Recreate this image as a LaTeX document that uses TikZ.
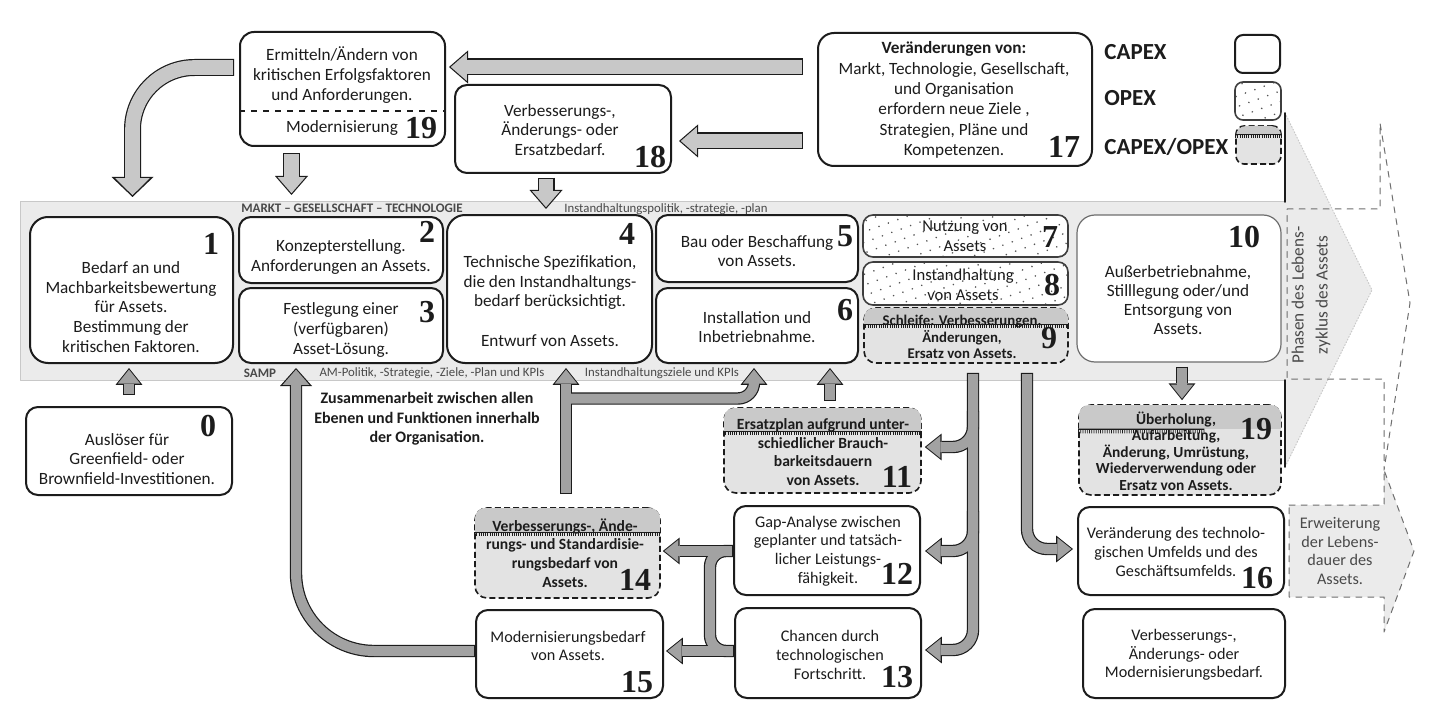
\documentclass[tikz,border=0pt]{standalone}
\usepackage{fontspec}
\setmainfont{Carlito}
\newfontfamily\numfont{Liberation Serif}
\usetikzlibrary{arrows.meta,calc,fit,patterns.meta}
\definecolor{ink}{HTML}{1C1C1C}
\definecolor{bandgray}{HTML}{EBEBEB}
\definecolor{bandline}{HTML}{C8C8C8}
\definecolor{lightarrow}{HTML}{C8C8C8}
\definecolor{midarrow}{HTML}{A2A2A2}
\definecolor{mixfill}{HTML}{E3E3E3}
\definecolor{mixtop}{HTML}{C9C9C9}
\definecolor{outline}{HTML}{6E6E6E}
\tikzset{
    every picture/.style={line cap=round,line join=round},
    capexbox/.style={draw=ink,fill=white,line width=1pt,rounded corners=6pt,inner sep=0pt},
    bigbox/.style={capexbox,rounded corners=9pt},
    opexbox/.style={draw=ink!85,line width=0.8pt,rounded corners=5pt,inner sep=0pt,
      preaction={fill=white},pattern={Dots[radius=0.45pt,distance=5pt,angle=20]},
      pattern color=ink!75},
    mixbox/.style={draw=ink,fill=mixfill,line width=0.8pt,line cap=butt,
      dash pattern=on 3pt off 1.6pt,rounded corners=6pt,inner sep=0pt},
    boxtext/.style={align=center,inner sep=0pt,text=ink,font={\fontsize{8.6}{9.9}\selectfont}},
    lowtext/.style={boxtext,font={\fontsize{8.1}{9.3}\selectfont}},
    boldtext/.style={boxtext,font={\fontsize{7.8}{9.3}\selectfont\bfseries}},
    numlabel/.style={inner sep=0pt,text=ink,font={\numfont\bfseries\fontsize{16}{16}\selectfont}},
    bandlabel/.style={inner sep=0pt,text=ink!80,font={\fontsize{6.4}{7}\selectfont}},
    legendtext/.style={inner sep=0pt,anchor=west,text=ink,font={\fontsize{11.5}{13}\selectfont\bfseries}},
    topedge/.style={draw=ink,line width=8.5pt,line cap=butt,
      -{Triangle[length=9.5pt,width=16.5pt,line width=0pt]}},
    topfill/.style={draw=lightarrow,line width=7.3pt,line cap=butt,
      -{Triangle[length=8pt,width=13.9pt,line width=0pt]},shorten >=0.9pt,shorten <=0.6pt},
    toparrow/.style={topfill,preaction={topedge,shorten >=0pt,shorten <=0pt}},
    topwide/.style={topfill,-{Triangle[length=8.5pt,width=17.2pt,line width=0pt]},
      preaction={topedge,-{Triangle[length=10pt,width=21pt,line width=0pt]},shorten >=0pt,shorten <=0pt}},
    bandedge/.style={draw=ink,line width=6.2pt,line cap=butt,
      -{Triangle[length=8.4pt,width=13.4pt,line width=0pt]}},
    bandfill/.style={draw=midarrow,line width=5pt,line cap=butt,
      -{Triangle[length=7pt,width=11.2pt,line width=0pt]},shorten >=0.8pt,shorten <=0.6pt},
    bandarrow/.style={bandfill,preaction={bandedge,shorten >=0pt,shorten <=0pt}},
    bandwide/.style={bandfill,-{Triangle[length=7.6pt,width=13.3pt,line width=0pt]},
      preaction={bandedge,-{Triangle[length=9pt,width=16pt,line width=0pt]},shorten >=0pt,shorten <=0pt}}
}
\begin{document}
\begin{tikzpicture}[x=0.5pt,y=-0.5pt]
  \path[use as bounding box,fill=white] (0,0) rectangle (1436,706);
  % life cycle band
  \draw[outline,line width=0.5pt,dashed,fill=bandgray] (1289,505) -- (1384,505) -- (1384,470) -- (1414,551)
    -- (1384,632) -- (1384,597) -- (1289,597) -- cycle;
  \fill[bandgray] (20,202) -- (1285,202) -- (1285,113) -- (1372,290) -- (1285,467) -- (1285,380) -- (20,380) -- cycle;
  \draw[bandline,line width=0.5pt] (1285,202) -- (20,202) -- (20,380) -- (1285,380);
  \draw[bandline,line width=0.5pt,densely dotted] (1285,113) -- (1372,290) -- (1285,467);
  \draw[ink,line width=0.9pt] (1285,113) -- (1285,202) (1285,380) -- (1285,467);
  \draw[outline,line width=0.5pt,dashed] (1287,209) -- (1380,209) -- (1380,123) -- (1410,303) -- (1384,470)
    -- (1384,379) -- (1287,379) -- cycle;

  \node[capexbox,rounded corners=7pt,fit={(240,32) (445,146)}] (b19m) {};
  \draw[ink,line width=0.6pt,line cap=butt,dashed] ([yshift=-40pt]b19m.north west) -- ([yshift=-40pt]b19m.north east);
  \node[capexbox,fit={(455,85) (671,173)}] (b18) {};
  \node[capexbox,rounded corners=8pt,fit={(818,33) (1092,166)}] (b17) {};
  \node[capexbox,rounded corners=4pt,fit={(1235,35) (1280,73)}] (lgcapex) {};
  \node[opexbox,rounded corners=4pt,fit={(1235,82) (1281,120)}] (lgopex) {};
  \node[mixbox,rounded corners=4pt,fit={(1236,126) (1281,164)}] (lgmix) {};
  \node[bigbox,fit={(30,217) (233,363)}] (b1) {};
  \node[capexbox,fit={(239,217) (443,283)}] (b2) {};
  \node[capexbox,fit={(239,288) (443,363)}] (b3) {};
  \node[bigbox,fit={(447,215) (652,363)}] (b4) {};
  \node[capexbox,fit={(656,215) (858,282)}] (b5) {};
  \node[capexbox,fit={(656,288) (858,363)}] (b6) {};
  \node[opexbox,fit={(863,215) (1068,257)}] (b7) {};
  \node[opexbox,fit={(863,262) (1068,305)}] (b8) {};
  \node[mixbox,fit={(864,308) (1068,363)}] (b9) {};
  \node[bigbox,draw=outline,line width=0.6pt,fit={(1077,215) (1281,362)}] (b10) {};
  \node[capexbox,fit={(26,407) (232,495)}] (b0) {};
  \node[mixbox,fit={(724,408) (921,493)}] (b11) {};
  \node[capexbox,fit={(734,506) (920,595)}] (b12) {};
  \node[capexbox,fit={(735,608) (921,698)}] (b13) {};
  \node[mixbox,fit={(475,508) (660,598)}] (b14) {};
  \node[capexbox,fit={(476,610) (663,698)}] (b15) {};
  \node[mixbox,fit={(1079,405) (1281,495)}] (b19u) {};
  \node[capexbox,fit={(1078,507) (1284,595)}] (b16) {};
  \node[capexbox,fit={(1083,609) (1285,698)}] (bneed) {};

  \foreach \b/\d/\w in {lgmix/4.5pt/1,b9/8.5pt/1,b11/12pt/1,b14/12.5pt/1,b19u/12.5pt/0.62} {
    \begin{scope}
      \clip[rounded corners=5pt] ([shift={(0.4pt,-0.4pt)}]\b.north west) rectangle ([shift={(-0.4pt,0.4pt)}]\b.south east);
      \fill[mixtop] (\b.north west) rectangle ([yshift=-\d]\b.north east);
    \end{scope}
    \draw[ink,line width=0.6pt,line cap=butt] ([yshift=-\d]\b.north west)
      -- ([yshift=-\d]$(\b.north west)!\w!(\b.north east)$);
    \draw[ink,line width=1.8pt,line cap=butt,dash pattern=on 0.35pt off 0.75pt] ([yshift=-\d-1.2pt]\b.north west)
      -- ([yshift=-\d-1.2pt]$(\b.north west)!\w!(\b.north east)$);
  }

  % arrows
  \draw[toparrow] ([shift={(-7pt,16.25pt)}]b17.west) -- ([shift={(1.5pt,11pt)}]b19m.east);
  \draw[toparrow] ([shift={(-7pt,-20.75pt)}]b17.west) -- ([shift={(3.5pt,-6pt)}]b18.east);
  \draw[topwide,rounded corners=31pt] ([shift={(-2.5pt,10.75pt)}]b19m.west) -| ([shift={(0.5pt,9.5pt)}]b1.north);
  \draw[toparrow] ([shift={(-25.5pt,-3pt)}]b19m.south) -- ([shift={(-24.75pt,10.5pt)}]b2.north);
  \draw[toparrow] ([shift={(-8.5pt,-2pt)}]b18.south) -- ([shift={(-1.75pt,2.5pt)}]b4.north);
  \draw[bandarrow] ([yshift=5.5pt]b0.north) -- ([shift={(-1.25pt,-2pt)}]b1.south);
  \draw[bandwide,rounded corners=39pt] ([yshift=1.5pt]b15.west) -| ([shift={(-22.5pt,-2pt)}]b3.south);
  \draw[bandarrow] ([shift={(3.75pt,3pt)}]b11.north) -- ([shift={(36.5pt,-2pt)}]b6.south);
  \draw[bandarrow] ([shift={(1.5pt,-2pt)}]b10.south) -- ([shift={(1pt,2pt)}]b19u.north);
  \draw[bandarrow,rounded corners=10pt] ([shift={(30.5pt,-4.5pt)}]b9.south) |- ([shift={(-2pt,1pt)}]b16.west);
  \foreach \pass in {bandedge,bandfill} {
    \draw[\pass] ([shift={(-0.75pt,6.5pt)}]b14.north) -- ([shift={(8.25pt,-2pt)}]b4.south);
    \draw[\pass,rounded corners=8pt] ([shift={(8.25pt,-17.25pt)}]b4.south) -| ([shift={(-1.5pt,-2pt)}]b6.south);
    \draw[\pass,rounded corners=10pt] ([shift={(3.5pt,-4.5pt)}]b9.south) |- ([shift={(1.5pt,1.5pt)}]b13.east);
    \draw[\pass,rounded corners=10pt] ([shift={(3.5pt,-23.5pt)}]b9.south) |- ([shift={(1.5pt,1.75pt)}]b11.east);
    \draw[\pass,rounded corners=10pt] ([shift={(3.5pt,-73.5pt)}]b9.south) |- ([shift={(2pt,-0.25pt)}]b12.east);
    \draw[\pass,-,rounded corners=8pt] ([yshift=-0.25pt]b12.west) -| ([shift={(-12pt,1pt)}]b13.west) -- ([yshift=1pt]b13.west);
    \draw[\pass] ([yshift=-0.25pt]b12.west) -- ([shift={(1pt,1pt)}]b14.east);
    \draw[\pass] ([yshift=1pt]b13.west) -- ([shift={(1pt,1.5pt)}]b15.east);
  }

  % texts
  \node[boxtext] (t19m) at (342,75) {Ermitteln/Ändern von\\kritischen Erfolgsfaktoren\\und Anforderungen.};
  \node[boxtext] (tmod) at (342,128) {Modernisierung};
  \node[boxtext] (t18) at (560,130) {Verbesserungs-,\\Änderungs- oder\\Ersatzbedarf.};
  \node[boxtext,font={\fontsize{8.6}{10.2}\selectfont}] (t17) at (954,100) {\textbf{Veränderungen von:}\\Markt, Technologie, Gesellschaft,\\und Organisation\\erfordern neue Ziele ,\\Strategien, Pläne und\\Kompetenzen.};
  \node[legendtext] (lcapex) at (1104,52) {CAPEX};
  \node[legendtext] (lopex) at (1104,98) {OPEX};
  \node[legendtext] (lmix) at (1104,147) {CAPEX/OPEX};
  \node[boxtext] (t1) at (131,307) {Bedarf an und\\Machbarkeitsbewertung\\für Assets.\\Bestimmung der\\kritischen Faktoren.};
  \node[boxtext] (t2) at (341,257) {Konzepterstellung.\\Anforderungen an Assets.};
  \node[boxtext] (t3) at (341,330) {Festlegung einer\\(verfügbaren)\\Asset-Lösung.};
  \node[boxtext] (t4) at (550,301) {Technische Spezifikation,\\die den Instandhaltungs-\\bedarf berücksichtigt.\\[10pt]Entwurf von Assets.};
  \node[boxtext] (t5) at (757,251) {Bau oder Beschaffung\\von Assets.};
  \node[boxtext] (t6) at (757,327) {Installation und\\Inbetriebnahme.};
  \node[boxtext,font={\fontsize{8.3}{10}\selectfont}] (t7) at (965,236) {Nutzung von\\Assets};
  \node[boxtext,font={\fontsize{8.3}{10}\selectfont}] (t8) at (963,285) {Instandhaltung\\von Assets};
  \node[boldtext,font={\fontsize{7.4}{8.3}\selectfont\bfseries}] (t9) at (962,337) {Schleife: Verbesserungen,\\Änderungen,\\Ersatz von Assets.};
  \node[boxtext,font={\fontsize{8.6}{9.5}\selectfont}] (t10) at (1178,300) {Außerbetriebnahme,\\Stilllegung oder/und\\Entsorgung von\\Assets.};
  \node[boxtext] (t0) at (127,459) {Auslöser für\\Greenfield- oder\\Brownfield-Investitionen.};
  \node[boldtext,font={\fontsize{8}{9.8}\selectfont\bfseries}] (tcoop) at (427,419) {Zusammenarbeit zwischen allen\\Ebenen und Funktionen innerhalb\\der Organisation.};
  \node[boldtext] (t11) at (823,452) {Ersatzplan aufgrund unter-\\schiedlicher Brauch-\\barkeitsdauern\\von Assets.};
  \node[lowtext] (t12) at (828,551) {Gap-Analyse zwischen\\geplanter und tatsäch-\\licher Leistungs-\\fähigkeit.};
  \node[lowtext] (t13) at (830,655) {Chancen durch\\technologischen\\Fortschritt.};
  \node[boldtext] (t14) at (565,553) {Verbesserungs-, Ände-\\rungs- und Standardisie-\\rungsbedarf von\\Assets.};
  \node[lowtext] (t15) at (568,646) {Modernisierungsbedarf\\von Assets.};
  \node[boldtext,font={\fontsize{7.7}{8.3}\selectfont\bfseries}] (t19u) at (1176,451) {Überholung,\\Aufarbeitung,\\Änderung, Umrüstung,\\Wiederverwendung oder\\Ersatz von Assets.};
  \node[lowtext] (t16) at (1176,552) {Veränderung des technolo-\\gischen Umfelds und des\\Geschäftsumfelds.};
  \node[lowtext] (tneed) at (1184,655) {Verbesserungs-,\\Änderungs- oder\\Modernisierungsbedarf.};
  \node[lowtext,text=ink!80] (terw) at (1340,551) {Erweiterung\\der Lebens-\\dauer des\\Assets.};
  \node[boxtext,rotate=90,font={\fontsize{8.6}{12}\selectfont},text=ink!80] (tphase) at (1311,295) {Phasen des Lebens-\\zyklus des Assets};
  \node[bandlabel,font={\fontsize{6.5}{7}\selectfont\bfseries}] (lmarkt) at (352,208) {MARKT -- GESELLSCHAFT -- TECHNOLOGIE};
  \node[bandlabel] (lpolicy) at (666,209) {Instandhaltungspolitik, -strategie, -plan};
  \node[bandlabel,font={\fontsize{6.5}{7}\selectfont\bfseries}] (lsamp) at (260,373) {SAMP};
  \node[bandlabel] (lam) at (432,373) {AM-Politik, -Strategie, -Ziele, -Plan und KPIs};
  \node[bandlabel] (lkpi) at (662,373) {Instandhaltungsziele und KPIs};

  \foreach \id/\lbl/\x/\y in {0/0/208/426,1/1/211/244,2/2/427/232,3/3/427/312,4/4/627/234,5/5/845/236,
      6/6/845/310,7/7/1050/237,8/8/1052/285,9/9/1049/338,10/10/1244/237,11/11/897/477,12/12/897/574,
      13/13/897/677,14/14/635/580,15/15/637/682,16/16/1257/578,17/17/1064/147,18/18/650/157,
      19m/19/421/128,19u/19/1256/429}
    \node[numlabel] (n\id) at (\x,\y) {\lbl};
\end{tikzpicture}
\end{document}
